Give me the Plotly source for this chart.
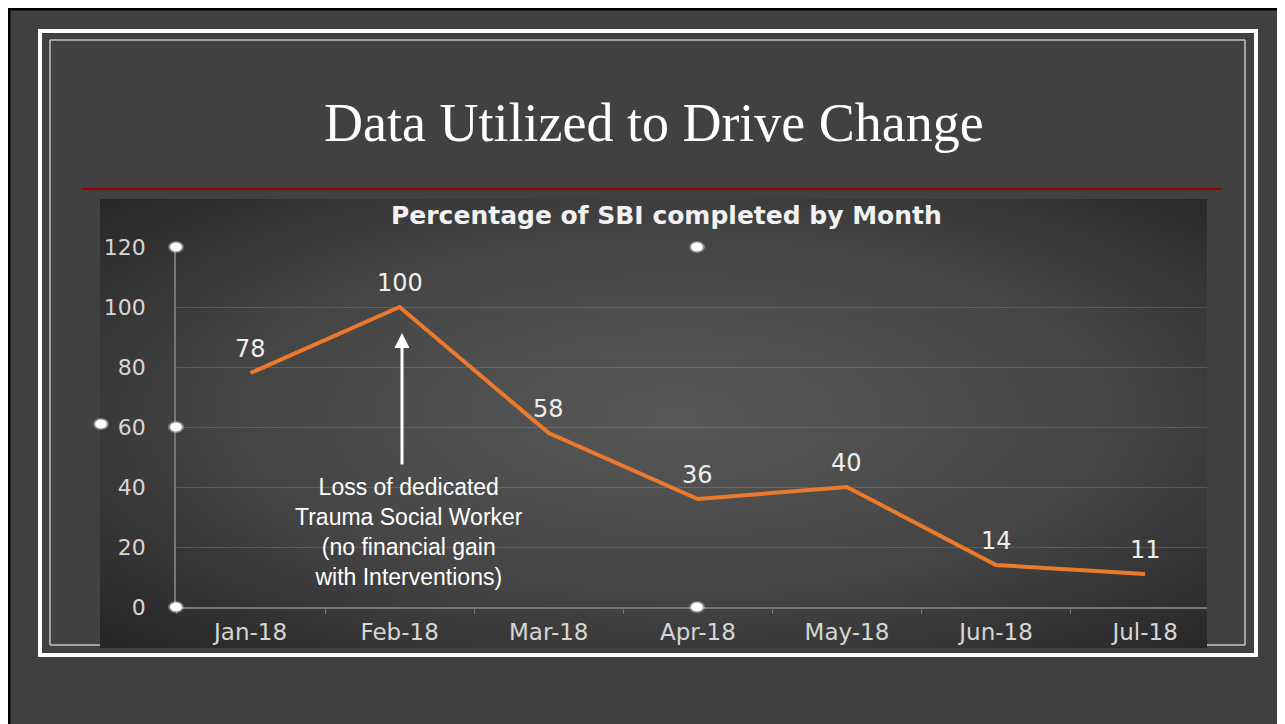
import base64
import plotly.graph_objects as go

# ---------------- data ----------------
months = ["Jan-18", "Feb-18", "Mar-18", "Apr-18", "May-18", "Jun-18", "Jul-18"]
pct_completed = [78, 100, 58, 36, 40, 14, 11]
y_ticks = [0, 20, 40, 60, 80, 100, 120]

slide_title = "Data Utilized to Drive Change"
chart_title = "Percentage of SBI completed by Month"
note_lines = ["Loss of dedicated", "Trauma Social Worker", "(no financial gain", "with Interventions)"]

# ---------------- geometry helpers (page pixels -> paper) ----------------
W, H, OX, OY = 1277, 716, 8, 8
PL, PR, PT, PB = 176, 1207, 247, 607  # plot area in page pixels


def px(x):
    return (x - PL) / (PR - PL)


def py(y):
    return (PB - y) / (PB - PT)


def sx(w):
    return w / (PR - PL)


def sy(h):
    return h / (PB - PT)


fig = go.Figure()

fig.add_trace(go.Scatter(
    x=months, y=pct_completed, mode="lines",
    line=dict(color="#EC7A2C", width=4),
    hoverinfo="skip", cliponaxis=False, showlegend=False,
))

# data labels
for m, v in zip(months, pct_completed):
    fig.add_annotation(x=m, y=v, xref="x", yref="y", text=str(v), showarrow=False,
                       yshift=24, font=dict(family="DejaVu Sans", size=24, color="#eeeeee"))

# chart background gradient (svg image)
svg = ("<svg xmlns='http://www.w3.org/2000/svg' width='1107' height='449' preserveAspectRatio='none'>"
       "<defs><radialGradient id='g' cx='0.52' cy='0.48' r='0.72'>"
       "<stop offset='0' stop-color='#585858'/>"
       "<stop offset='0.55' stop-color='#454545'/>"
       "<stop offset='1' stop-color='#262626'/>"
       "</radialGradient></defs>"
       "<rect width='1107' height='449' fill='url(#g)'/></svg>")
src = "data:image/svg+xml;base64," + base64.b64encode(svg.encode()).decode()
fig.add_layout_image(source=src, xref="paper", yref="paper", x=px(100), y=py(199),
                     sizex=sx(1107), sizey=sy(449), xanchor="left", yanchor="top",
                     sizing="stretch", layer="below")

shapes = []
# black border top/left
shapes.append(dict(type="line", xref="paper", yref="paper", x0=px(8), x1=px(1285), y0=py(9), y1=py(9),
                   line=dict(color="#000000", width=3), layer="below"))
shapes.append(dict(type="line", xref="paper", yref="paper", x0=px(9), x1=px(9), y0=py(8), y1=py(724),
                   line=dict(color="#000000", width=3), layer="below"))
# outer white frame
shapes.append(dict(type="rect", xref="paper", yref="paper", x0=px(40), x1=px(1256), y0=py(31), y1=py(655),
                   line=dict(color="#ffffff", width=4), layer="below"))
# inner thin frame (pieces not covered by the chart picture)
inner = [((50, 40), (1245, 40)), ((50, 40), (50, 645)), ((1245, 40), (1245, 645)),
         ((50, 645), (100, 645)), ((1207, 645), (1245, 645))]
for (a, b) in inner:
    shapes.append(dict(type="line", xref="paper", yref="paper", x0=px(a[0]), y0=py(a[1]),
                       x1=px(b[0]), y1=py(b[1]), line=dict(color="#c4c4c4", width=1.5), layer="below"))
# red rule
shapes.append(dict(type="line", xref="paper", yref="paper", x0=px(82), x1=px(1222), y0=py(189), y1=py(189),
                   line=dict(color="#a00000", width=2), layer="below"))
# selection handle dots
for (cx, cy) in [(176, 247), (697, 247), (176, 427), (176, 607), (697, 607), (101, 424)]:
    shapes.append(dict(type="circle", xref="paper", yref="paper", x0=px(cx - 8), x1=px(cx + 8),
                       y0=py(cy - 6), y1=py(cy + 6), fillcolor="rgba(255,255,255,0.35)",
                       line=dict(width=0), layer="above"))
    shapes.append(dict(type="circle", xref="paper", yref="paper", x0=px(cx - 6), x1=px(cx + 6),
                       y0=py(cy - 4.5), y1=py(cy + 4.5), fillcolor="#ffffff",
                       line=dict(width=0), layer="above"))
fig.update_layout(shapes=shapes)

# slide title
fig.add_annotation(xref="paper", yref="paper", x=px(654), y=py(123), text=slide_title, showarrow=False,
                   xanchor="center", yanchor="middle",
                   font=dict(family="Liberation Serif", size=54, color="#ffffff"))
# chart title
fig.add_annotation(xref="paper", yref="paper", x=px(666), y=py(215), text="<b>" + chart_title + "</b>",
                   showarrow=False, xanchor="center", yanchor="middle",
                   font=dict(family="DejaVu Sans", size=25, color="#f2f2f2"))
# arrow
fig.add_annotation(xref="paper", yref="paper", x=px(402), y=py(333), text="", showarrow=True,
                   ax=0, ay=133, arrowhead=2, arrowsize=1.0, arrowwidth=3, arrowcolor="#ffffff", standoff=0)
# note text
fig.add_annotation(xref="paper", yref="paper", x=px(409), y=py(532), text="<br>".join(note_lines),
                   showarrow=False, xanchor="center", yanchor="middle", align="center",
                   font=dict(family="Liberation Sans", size=23, color="#ffffff"))

fig.update_layout(
    width=W, height=H,
    margin=dict(l=PL - OX, r=1285 - PR, t=PT - OY, b=724 - PB, pad=0),
    paper_bgcolor="#414141", plot_bgcolor="rgba(0,0,0,0)",
    showlegend=False,
    xaxis=dict(type="category", categoryorder="array", categoryarray=months,
               range=[-0.5, 6.415], showgrid=False, zeroline=False,
               showline=True, linecolor="#767676", linewidth=1.5,
               ticks="outside", tickson="boundaries", ticklen=5, tickcolor="#767676",
               ticklabelstandoff=4,
               tickfont=dict(family="DejaVu Sans", size=23, color="#d6d6d6")),
    yaxis=dict(range=[0, 120], tickvals=y_ticks, showgrid=True, gridcolor="rgba(255,255,255,0.14)",
               gridwidth=1, zeroline=False, showline=True, linecolor="#767676", linewidth=1.5,
               ticks="", ticklabelstandoff=24,
               tickfont=dict(family="DejaVu Sans", size=22, color="#d6d6d6")),
)

fig.write_html("out.html",
               post_script="document.documentElement.style.overflow='hidden';document.body.style.overflow='hidden';")
